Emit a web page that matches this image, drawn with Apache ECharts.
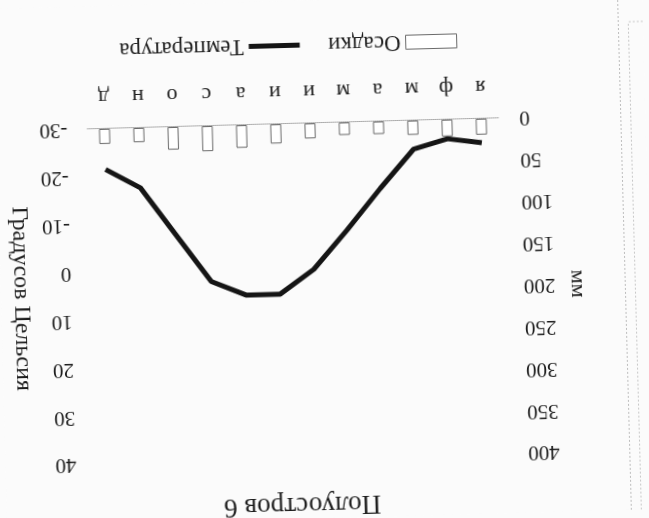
<!DOCTYPE html>
<html>
<head>
<meta charset="utf-8">
<script src="https://cdn.jsdelivr.net/npm/echarts@6/dist/echarts.min.js"></script>
<style>
  html, body { margin: 0; padding: 0; background: #fbfbfb; overflow: hidden; width: 649px; height: 518px; }
  #chart { width: 649px; height: 518px; transform: rotate(178.46deg); transform-origin: 50% 50%; }
</style>
</head>
<body>
<div id="chart"></div>
<script>
const titleText = 'Полуостров 6';
const months = ['я', 'ф', 'м', 'а', 'м', 'и', 'и', 'а', 'с', 'о', 'н', 'д'];
const precipitation = [19, 20, 17, 15, 15, 18, 23, 27, 30, 27, 17, 18];
const temperature = [-25, -26, -24, -16, -7.5, 0.5, 5.5, 5.5, 2.5, -7.5, -17.5, -21.5];
const mmTicks = { min: 0, max: 400, interval: 50 };
const tempTicks = { min: -30, max: 40, interval: 10 };
const seriesNames = ['Осадки', 'Температура'];
const axisNames = ['мм', 'Градусов Цельсия'];

const FONT = '"Liberation Serif", "DejaVu Serif", serif';
const TXT = '#1c1c1c';

const chart = echarts.init(document.getElementById('chart'));
chart.setOption({
  backgroundColor: '#fbfbfb',
  animation: false,
  title: {
    text: titleText,
    left: 353,
    textAlign: 'center',
    top: 0,
    padding: 0,
    textStyle: { fontFamily: FONT, fontSize: 27, fontWeight: 'normal', color: TXT }
  },
  legend: {
    left: 181,
    top: 457,
    itemWidth: 51,
    itemHeight: 14,
    itemGap: 26,
    textStyle: { fontFamily: FONT, fontSize: 23, color: TXT },
    data: [
      { name: seriesNames[0], icon: 'rect', itemStyle: { color: '#ffffff', borderColor: '#6a6a6a', borderWidth: 1 } },
      { name: seriesNames[1], itemStyle: { opacity: 0 }, lineStyle: { color: '#151515', width: 5 } }
    ]
  },
  grid: { left: 147, right: 86, top: 60, bottom: 123 },
  xAxis: {
    type: 'category',
    data: months,
    axisLine: { lineStyle: { color: '#a0a0a0', type: 'dotted', width: 1 } },
    axisTick: { show: false },
    axisLabel: { fontFamily: FONT, fontSize: 22, color: TXT, margin: 21 }
  },
  yAxis: [
    {
      type: 'value',
      position: 'left',
      min: mmTicks.min, max: mmTicks.max, interval: mmTicks.interval,
      name: axisNames[0],
      nameLocation: 'middle',
      nameRotate: 90,
      nameGap: 61,
      nameTextStyle: { fontFamily: FONT, fontSize: 22, color: TXT },
      axisLine: { show: false },
      axisTick: { show: false },
      splitLine: { show: false },
      axisLabel: { fontFamily: FONT, fontSize: 21, color: TXT, margin: 21 }
    },
    {
      type: 'value',
      position: 'right',
      min: tempTicks.min, max: tempTicks.max, interval: tempTicks.interval,
      name: axisNames[1],
      nameLocation: 'middle',
      nameRotate: 90,
      nameGap: 53,
      nameTextStyle: { fontFamily: FONT, fontSize: 24, color: TXT },
      axisLine: { show: false },
      axisTick: { show: false },
      splitLine: { show: false },
      axisLabel: { fontFamily: FONT, fontSize: 21, color: TXT, margin: 20 }
    }
  ],
  graphic: [
    { type: 'line', shape: { x1: 24.5, y1: 0, x2: 24.5, y2: 518 }, style: { stroke: '#bdbdbd', lineWidth: 1, lineDash: [2, 2] }, silent: true },
    { type: 'line', shape: { x1: 14.5, y1: 0, x2: 14.5, y2: 488 }, style: { stroke: '#c8c8c8', lineWidth: 1, lineDash: [2, 2] }, silent: true },
    { type: 'line', shape: { x1: 0, y1: 488, x2: 14.5, y2: 488 }, style: { stroke: '#c8c8c8', lineWidth: 1, lineDash: [2, 2] }, silent: true }
  ],
  series: [
    {
      name: seriesNames[0],
      type: 'bar',
      yAxisIndex: 0,
      data: precipitation,
      barWidth: 11,
      itemStyle: { color: '#ffffff', borderColor: '#6a6a6a', borderWidth: 1 }
    },
    {
      name: seriesNames[1],
      type: 'line',
      yAxisIndex: 1,
      data: temperature,
      symbol: 'none',
      lineStyle: { color: '#151515', width: 5 },
      itemStyle: { color: '#151515' }
    }
  ]
});
</script>
</body>
</html>
